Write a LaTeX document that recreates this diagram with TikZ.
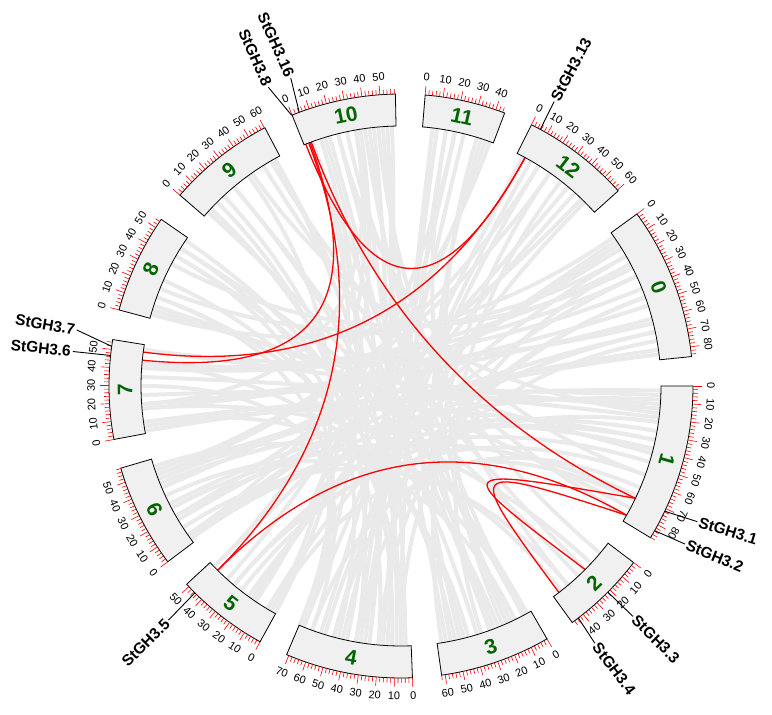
\documentclass[tikz,border=0pt]{standalone}
\usepackage{fontspec}
\setmainfont{Liberation Sans}
\usetikzlibrary{calc}

\definecolor{linkgray}{RGB}{234,234,234}
\definecolor{chrgreen}{RGB}{0,100,0}
\definecolor{boxfill}{RGB}{240,240,240}

\newcommand{\degu}{0.355}% degrees per Mb
\newcommand{\rin}{260}
\newcommand{\rout}{292}

\begin{document}
\begin{tikzpicture}[x=1pt, y=1pt,
  chrbox/.style={draw=black, fill=boxfill, line width=0.8pt},
  tickmark/.style={draw=red, line width=0.6pt},
  ticklab/.style={font=\fontsize{11}{11}\selectfont, inner sep=0pt},
  chrlab/.style={font=\fontsize{21}{21}\selectfont\bfseries, text=chrgreen, inner sep=0pt},
  genelab/.style={font=\fontsize{15.5}{16}\selectfont\bfseries, inner sep=1.5pt},
  genelink/.style={draw=black, line width=0.9pt},
  syn/.style={draw=linkgray, line width=4pt},
  pair/.style={draw=red, line width=1.3pt}
]
\useasboundingbox (0,0) rectangle (772,715);
\begin{scope}[shift={(401,329)}]
  % background synteny
  \foreach \a/\b in {30/158, 27/152, 22/176, 18/-176, 14/172, 10/-100, 33/-145, 8/-160,
      35/164, 25/-185, 20/-105, 12/-130, 28/-90,
      -2/-178, -4/-172, -7/-182, -10/-150, -14/-158, -20/104, -23/-110, -6/125,
      -1/-170, -12/-171, -17/-144, -26/-120, -30/120,
      -40/102, -47/148, -52/-162, -43/-175, -50/95,
      -62/98, -65/104, -67/80, -70/94, -73/130, -76/160, -79/72, -81/55, -64/-155,
      -61/138, -69/110, -75/-185,
      -89/100, -91/107, -94/82, -97/96, -99/76, -102/110, -104/135, -107/45, -110/-180, -112/150, -95/20,
      -90/119, -100/92, -105/60, -113/160,
      -121/25, -124/99, -128/-8, -132/78, -136/50, -119/110, -126/30, -130/-20,
      -145/-12, -149/12, -153/-3, -157/32, -161/58, -147/-50, -144/34, -152/-25, -159/7,
      -172/-61, -176/100, -175/15, -185/28, -188/-5,
      162/-28, 156/-89, 150/-68, 163/-15, 148/-95, 146/-78,
      137/-92, 130/-62, 122/-45, 126/-120, 133/-100, 119/-70,
      106/-80, 97/-77, 100/-136, 93/-98, 108/-112,
      83/-93, 78/-108, 73/-66, 71/-125, 80/-90, 70/-145,
      58/-103, 52/-72, 46/-150, 55/-160, 62/-112, 48/-125}
    \draw[syn] (\a:\rin) .. controls (\a:86.7) and (\b:86.7) .. (\b:\rin);

  % StGH3 pairs: end / end / control angles / control radius
  \foreach \a/\b/\ca/\cb/\cr in {110.5/-185.7/110.5/-185.7/86.7, -187.5/61.5/-187.5/61.5/86.7,
      111.5/61.5/111.5/61.5/86.7, 110.8/-134.85/110.8/-134.85/86.7,
      110.2/-25.6/110.2/-25.6/86.7, -134.85/-29.8/-134.85/-29.8/86.7,
      -44.9/-25.6/-60/-60/92, -52.6/-29.8/-51/-51/98}
    \draw[pair] (\a:\rin) .. controls (\ca:\cr) and (\cb:\cr) .. (\b:\rin);

  % chromosomes: id / start angle / length (Mb) / flip labels
  \foreach \cid/\cstart/\clen/\flip in {0/36.1/85.4/0, 1/0/88.2/0, 2/-37.2/47.6/1,
      3/-60/62/1, 4/-87.75/71.3/1, 5/-118.85/51.8/1, 6/-143/58.2/1,
      7/-169.45/55.5/0, 8/164.9/55.5/0, 9/139.2/60.3/0, 10/111.9/58.6/0,
      11/85.25/45.2/0, 12/63.45/60.6/0}{
    \pgfmathsetmacro\cstop{\cstart-\degu*\clen}
    \pgfmathsetmacro\cmid{(\cstart+\cstop)/2}
    \pgfmathsetmacro\rot{\cmid-90+180*\flip}
    \draw[chrbox] (\cstart:\rin) arc[start angle=\cstart, end angle=\cstop, radius=\rin]
      -- (\cstop:\rout) arc[start angle=\cstop, end angle=\cstart, radius=\rout] -- cycle;
    \node[chrlab, rotate=\rot] (chr\cid) at (\cmid:276) {\cid};
    \foreach \mb in {0,2,...,88}{
      \pgfmathtruncatemacro\ok{\mb>\clen ? 0 : 1}
      \ifnum\ok=1
        \pgfmathsetmacro\ta{\cstart-\degu*\mb}
        \pgfmathtruncatemacro\maj{mod(\mb,10)==0 ? 1 : 0}
        \ifnum\maj=1
          \draw[tickmark] (\ta:\rout) -- (\ta:{\rout+9});
          \pgfmathsetmacro\trot{\ta-90+180*\flip}
          \node[ticklab, rotate=\trot] (t\cid-\mb) at (\ta:{\rout+18}) {\mb};
        \else
          \draw[tickmark] (\ta:\rout) -- (\ta:{\rout+5});
        \fi
      \fi
    }
  }

  % gene labels
  \foreach \gid/\gname/\gb/\ge/\gr/\grot/\gside in {
      g1/StGH3.1/-25.4/-24.6/326/-17/west, g2/StGH3.2/-29.7/-29.1/325/-22/west,
      g3/StGH3.3/-44.9/-44.8/327/-45/west, g4/StGH3.4/-52.6/-53/322/-53/west,
      g5/StGH3.5/-134.9/-134.8/330/45/east, g6/StGH3.6/-186/-186/330/-6/east,
      g7/StGH3.7/-187.8/-189.8/329/-10/east, g8/StGH3.8/112/113.95/327/-66/east,
      g16/StGH3.16/110.4/109.7/327/-66/east, g13/StGH3.13/61.5/61.7/323/62/west}
    \draw[genelink] (\gb:\rout) -- (\ge:\gr)
      node[genelab, anchor=\gside, rotate=\grot] (\gid) {\gname};
\end{scope}
\end{tikzpicture}
\end{document}
